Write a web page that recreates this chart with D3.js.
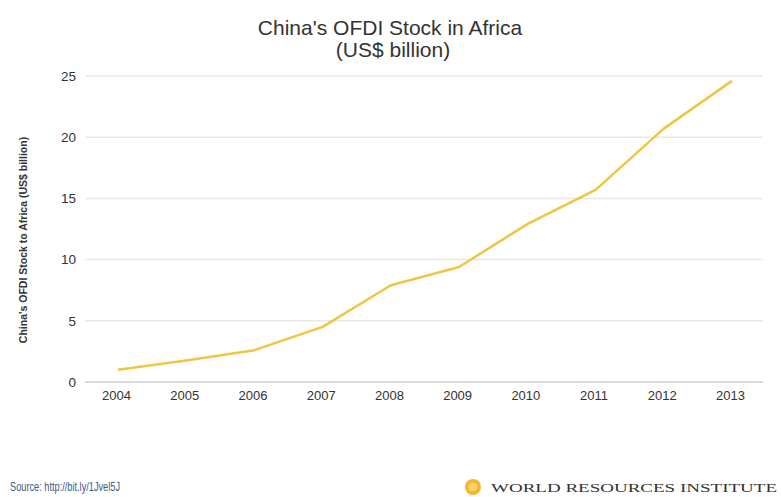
<!DOCTYPE html>
<html><head><meta charset="utf-8">
<script src="https://cdn.jsdelivr.net/npm/d3@7"></script>
<style>
body{margin:0;background:#fff;}
svg{display:block;font-family:"Liberation Sans Narrow","Arial Narrow","Liberation Sans",sans-serif;}
</style></head>
<body><svg id="c" width="781" height="497"></svg>
<script>
const years = ["2004","2005","2006","2007","2008","2009","2010","2011","2012","2013"];
const stock = [1.0, 1.75, 2.6, 4.5, 7.9, 9.4, 12.9, 15.7, 20.7, 24.6];
const yTicks = [0, 5, 10, 15, 20, 25];

const svg = d3.select("#c");
const x = d3.scalePoint().domain(years).range([118, 732]);
const y = d3.scaleLinear().domain([0, 25]).range([382, 76]);

// gridlines
svg.append("g").selectAll("line").data(yTicks).join("line")
  .attr("x1", 85).attr("x2", 763)
  .attr("y1", d => y(d)).attr("y2", d => y(d))
  .attr("stroke", d => d === 0 ? "#cfcfcf" : "#e8e8e8")
  .attr("stroke-width", 1.5);

// y axis labels
const yAxis = d3.axisLeft(y).tickValues(yTicks).tickSize(0).tickPadding(0);
const gy = svg.append("g").attr("transform", "translate(76,0)").call(yAxis);
gy.select(".domain").remove();
gy.selectAll("text").attr("font-size", 13.5).attr("fill", "#333")
  .attr("font-family", "Liberation Sans Narrow, Arial Narrow, sans-serif");

// x axis labels
const xAxis = d3.axisBottom(x).tickSize(0).tickPadding(0);
const gx = svg.append("g").attr("transform", "translate(-2,391)").call(xAxis);
gx.select(".domain").remove();
gx.selectAll("text").attr("font-size", 13).attr("fill", "#333")
  .attr("font-family", "Liberation Sans Narrow, Arial Narrow, sans-serif");

// line
const line = d3.line().x((d, i) => x(years[i])).y(d => y(d));
svg.append("path").datum(stock).attr("d", line)
  .attr("fill", "none").attr("stroke", "#eec643").attr("stroke-width", 2.5)
  .attr("stroke-linejoin", "round");

// titles
svg.append("text").attr("x", 390).attr("y", 35).attr("text-anchor", "middle")
  .attr("font-size", 21).attr("fill", "#333").text("China's OFDI Stock in Africa");
svg.append("text").attr("x", 393).attr("y", 57).attr("text-anchor", "middle")
  .attr("font-size", 21).attr("fill", "#333").text("(US$ billion)");

// y axis title
svg.append("text").attr("transform", "translate(27,240) rotate(-90)")
  .attr("text-anchor", "middle").attr("font-size", 10.5).attr("fill", "#333")
  .attr("font-weight", "bold")
  .text("China's OFDI Stock to Africa (US$ billion)");

// footer
svg.append("text").attr("x", 10).attr("y", 491).attr("font-size", 12)
  .attr("textLength", 110).attr("lengthAdjust", "spacingAndGlyphs")
  .attr("fill", "#3c5a88").text("Source: http://bit.ly/1Jvel5J");

const logo = svg.append("g").attr("transform", "translate(473,487)");
logo.append("circle").attr("r", 8).attr("fill", "#f2b632");
logo.append("circle").attr("r", 4.5).attr("fill", "#f8d064");
svg.append("text").attr("x", 491).attr("y", 492).attr("font-size", 13)
  .attr("font-family", "Liberation Serif, DejaVu Serif, serif")
  .attr("textLength", 286).attr("lengthAdjust", "spacingAndGlyphs")
  .attr("fill", "#333")
  .text("WORLD RESOURCES INSTITUTE");
</script></body></html>
